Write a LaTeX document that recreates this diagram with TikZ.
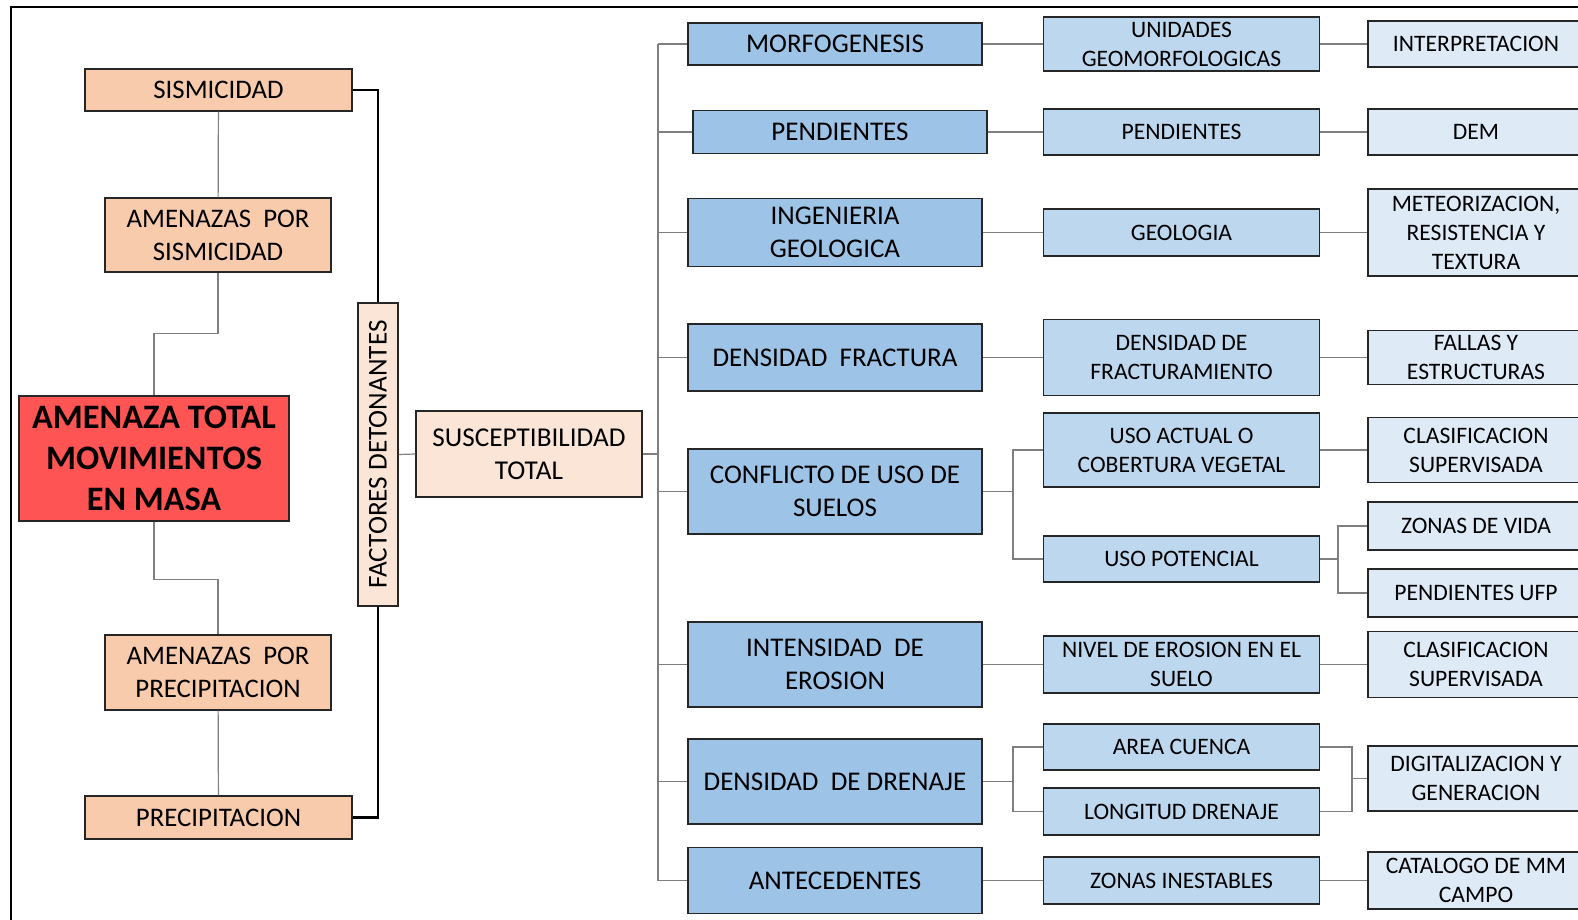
\documentclass[tikz,border=0pt]{standalone}
\usepackage{fontspec}
\setmainfont{Carlito}
\usetikzlibrary{positioning,calc}
\definecolor{peach}{HTML}{F8CBAD}
\definecolor{lightpeach}{HTML}{FBE5D6}
\definecolor{alertred}{HTML}{FF5454}
\definecolor{blueA}{HTML}{9DC3E6}
\definecolor{blueB}{HTML}{BDD7EE}
\definecolor{blueC}{HTML}{DEEBF7}
\definecolor{linegray}{HTML}{7F7F7F}

\begin{document}
\begin{tikzpicture}[x=1pt,y=-1pt,
 box/.style={draw=black!85,line width=1.3pt,inner sep=0pt,align=center},
 threat/.style={box,fill=peach,font=\fontsize{26.8}{33}\selectfont},
 total/.style={box,fill=alertred,font=\fontsize{34.3}{41}\selectfont\bfseries},
 suscep/.style={box,fill=lightpeach,font=\fontsize{27.2}{33}\selectfont},
 factor/.style={box,fill=blueA,minimum width=294pt,font=\fontsize{27}{33}\selectfont},
 layer/.style={box,fill=blueB,minimum width=276pt,font=\fontsize{23.6}{29}\selectfont},
 source/.style={box,fill=blueC,minimum width=216pt,font=\fontsize{23.6}{29}\selectfont},
 conn/.style={draw=linegray,line width=1.2pt},
 trigger/.style={draw=black,line width=2.5pt}]
\clip (0,0) rectangle (1578,920);
\draw[line width=2pt] (11,960) |- (1620,7);

\node[threat,minimum width=267pt,minimum height=42pt] (sism) at (218.5,90) {SISMICIDAD};
\node[threat,minimum width=226pt,minimum height=74pt] (amsism) at (218,235) {AMENAZAS~~POR\\SISMICIDAD};
\node[total,minimum width=270pt,minimum height=125pt] (total) at (154,458.5) {AMENAZA TOTAL\\MOVIMIENTOS\\EN MASA};
\node[threat,minimum width=226pt,minimum height=75pt] (amprec) at (218,672.5) {AMENAZAS~~POR\\PRECIPITACION};
\node[threat,minimum width=267pt,minimum height=43pt] (precip) at (218.5,817.5) {PRECIPITACION};
\node[suscep,rotate=90,minimum width=303pt,minimum height=40pt] (fact) at (378,454.5) {FACTORES DETONANTES};
\node[suscep,minimum width=226pt,minimum height=86pt] (susc) at (529,454) {SUSCEPTIBILIDAD\\TOTAL};

\node[factor,minimum height=42pt] (morf) at (835,44) {MORFOGENESIS};
\node[factor,minimum height=43pt] (pend) at (840,132) {PENDIENTES};
\node[factor,minimum height=68pt] (inge) at (835,232.5) {INGENIERIA\\GEOLOGICA};
\node[factor,minimum height=67pt] (dfrac) at (835,357.5) {DENSIDAD~~FRACTURA};
\node[factor,minimum height=85pt] (conf) at (835,491.5) {CONFLICTO DE USO DE\\SUELOS};
\node[factor,minimum height=85pt] (eros) at (835,664.5) {INTENSIDAD~~DE\\EROSION};
\node[factor,minimum height=85pt] (dren) at (835,781.5) {DENSIDAD~~DE DRENAJE};
\node[factor,minimum height=66pt] (ante) at (835,880.5) {ANTECEDENTES};

\node[layer,minimum height=54pt] (unid) at (1181.5,44) {UNIDADES\\GEOMORFOLOGICAS};
\node[layer,minimum height=46pt] (pendl) at (1181.5,132) {PENDIENTES};
\node[layer,minimum height=47pt] (geol) at (1181.5,232.5) {GEOLOGIA};
\node[layer,minimum height=76pt] (dfracl) at (1181.5,357.5) {DENSIDAD DE\\FRACTURAMIENTO};
\node[layer,minimum height=74pt] (uact) at (1181.5,450) {USO ACTUAL O\\COBERTURA VEGETAL};
\node[layer,minimum height=46pt] (upot) at (1181.5,559) {USO POTENCIAL};
\node[layer,minimum height=57pt] (nivel) at (1181.5,664.5) {NIVEL DE EROSION EN EL\\SUELO};
\node[layer,minimum height=46pt] (area) at (1181.5,747) {AREA CUENCA};
\node[layer,minimum height=47pt] (long) at (1181.5,811.5) {LONGITUD DRENAJE};
\node[layer,minimum height=47pt] (zinest) at (1181.5,880.5) {ZONAS INESTABLES};

\node[source,minimum height=46pt] (interp) at (1476,44) {INTERPRETACION};
\node[source,minimum height=46pt] (dem) at (1476,132) {DEM};
\node[source,minimum height=87pt] (meteo) at (1476,232.5) {METEORIZACION,\\RESISTENCIA Y\\TEXTURA};
\node[source,minimum height=54pt] (fallas) at (1476,357.5) {FALLAS Y\\ESTRUCTURAS};
\node[source,minimum height=65pt] (clasa) at (1476,450) {CLASIFICACION\\SUPERVISADA};
\node[source,minimum height=48pt] (zvida) at (1476,526) {ZONAS DE VIDA};
\node[source,minimum height=48pt] (pufp) at (1476,593) {PENDIENTES UFP};
\node[source,minimum height=66pt] (clasb) at (1476,664.5) {CLASIFICACION\\SUPERVISADA};
\node[source,minimum height=65pt] (digit) at (1476,778.5) {DIGITALIZACION Y\\GENERACION};
\node[source,minimum height=57pt] (catal) at (1476,880.5) {CATALOGO DE MM\\CAMPO};

\coordinate (trunk) at (658,0);
\coordinate (cb) at (1013,491.5);
\coordinate (lb) at (1013,781.5);
\coordinate (pb) at (1338,559);
\coordinate (db) at (1352,778.5);

\draw[trigger] (sism.east) -| (fact.east);
\draw[trigger] (precip.east) -| (fact.west);

\path[conn]
(sism) edge (amsism)
(amprec) edge (precip)
(fact.south) edge (susc.west)
(morf) edge (unid)
(pend) edge (pendl)
(inge) edge (geol)
(dfrac) edge (dfracl)
(eros) edge (nivel)
(ante) edge (zinest)
(unid) edge (interp)
(pendl) edge (dem)
(geol) edge (meteo)
(dfracl) edge (fallas)
(uact) edge (clasa)
(nivel) edge (clasb)
(zinest) edge (catal)
;
\draw[conn] (amsism.south) -- ++(0,61) -| (total.north);
\draw[conn] (total.south) -- ++(0,58) -| (amprec.north);
\draw[conn] (susc.east) -- (susc.east -| trunk);
\draw[conn] (morf.west -| trunk) -- (ante.west -| trunk);
\foreach \n in {morf,pend,inge,dfrac,conf,eros,dren,ante}
  \draw[conn] (\n.west) -- (\n.west -| trunk);
\draw[conn] (conf.east) -- (cb) (uact.west) -| (cb) (upot.west) -| (cb);
\draw[conn] (dren.east) -- (lb) (area.west) -| (lb) (long.west) -| (lb);
\draw[conn] (upot.east) -- (pb) (zvida.west) -| (pb) (pufp.west) -| (pb);
\draw[conn] (area.east) -| (db) (long.east) -| (db) (db) -- (digit.west);
\end{tikzpicture}
\end{document}
